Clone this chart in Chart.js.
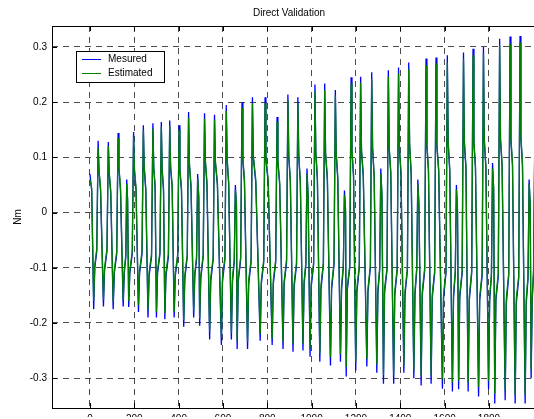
<!DOCTYPE html>
<html>
<head>
<meta charset="utf-8">
<script src="https://cdn.jsdelivr.net/npm/chart.js@4/dist/chart.umd.min.js"></script>
<style>
  html, body { margin: 0; padding: 0; background: #fff; overflow: hidden; }
  #wrap { width: 534px; height: 419px; }
</style>
</head>
<body>
<div id="wrap"><canvas id="graph" width="534" height="419"></canvas></div>
<script>
// samples, one row per oscillation
// (peak, shoulder, plateau end, trough, after trough, before next peak)
const time = [
  0, 8, 17, 22, 31,
  37, 41, 48, 61, 66, 77,
  83, 87, 94, 105, 110, 121,
  127, 131, 138, 150, 155, 162, 166, 170, 175, 180, 191,
  197, 201, 208, 219, 224, 235,
  241, 245, 252, 262, 267, 278,
  284, 288, 294, 300, 305, 316,
  322, 326, 332, 338, 343, 354,
  360, 364, 371, 380, 385, 396,
  402, 406, 413, 423, 428, 439,
  445, 449, 456, 468, 473, 481, 486, 491, 495, 500, 511,
  517, 521, 528, 540, 545, 556,
  562, 566, 575, 593, 598, 609,
  615, 619, 626, 638, 643, 651, 656, 661, 664, 669, 680,
  686, 690, 697, 711, 716, 727,
  733, 737, 748, 768, 773, 784,
  790, 794, 804, 822, 827, 838,
  844, 848, 856, 871, 876, 887,
  893, 897, 904, 916, 921, 932,
  938, 942, 949, 961, 966, 974, 979, 984, 993, 998, 1009,
  1015, 1019, 1026, 1037, 1042, 1053,
  1059, 1063, 1071, 1085, 1090, 1101,
  1107, 1111, 1118, 1130, 1135, 1143, 1148, 1153, 1156, 1161, 1172,
  1178, 1182, 1189, 1199, 1204, 1215,
  1221, 1225, 1233, 1249, 1254, 1265,
  1271, 1275, 1282, 1294, 1299, 1307, 1312, 1317, 1324, 1329, 1340,
  1346, 1350, 1357, 1370, 1375, 1386,
  1392, 1396, 1403, 1416, 1421, 1432,
  1438, 1442, 1449, 1461, 1466, 1474, 1479, 1484, 1494, 1499, 1510,
  1516, 1520, 1527, 1539, 1544, 1555,
  1561, 1565, 1573, 1590, 1595, 1606,
  1612, 1616, 1623, 1635, 1640, 1648, 1653, 1658, 1663, 1668, 1679,
  1685, 1689, 1696, 1706, 1711, 1722,
  1728, 1732, 1739, 1753, 1758, 1769,
  1775, 1779, 1786, 1798, 1803, 1811, 1816, 1821, 1826, 1831, 1842,
  1848, 1852, 1859, 1873, 1878, 1889,
  1895, 1899, 1906, 1918, 1923, 1934,
  1940, 1944, 1951, 1963, 1968, 1976, 1981, 1986, 1990, 1995, 2001, 2008
];

const mesured = [
  0.070, 0.040, -0.175, -0.100, -0.070,
  0.130, 0.075, 0.040, -0.170, -0.105, -0.070,
  0.128, 0.070, 0.035, -0.175, -0.110, -0.075,
  0.144, 0.080, 0.040, -0.170, -0.110, -0.080, 0.060, 0.020, -0.171, -0.110, -0.075,
  0.146, 0.075, 0.040, -0.180, -0.110, -0.075,
  0.158, 0.080, 0.040, -0.190, -0.115, -0.080,
  0.162, 0.080, 0.045, -0.190, -0.110, -0.075,
  0.164, 0.075, 0.040, -0.193, -0.115, -0.080,
  0.167, 0.080, 0.045, -0.190, -0.115, -0.080,
  0.158, 0.075, 0.040, -0.207, -0.120, -0.080,
  0.182, 0.085, 0.045, -0.190, -0.115, -0.085, 0.070, 0.025, -0.205, -0.120, -0.080,
  0.180, 0.090, 0.050, -0.230, -0.125, -0.085,
  0.177, 0.090, 0.050, -0.240, -0.125, -0.085,
  0.195, 0.095, 0.050, -0.230, -0.125, -0.090, 0.050, 0.010, -0.247, -0.125, -0.085,
  0.200, 0.095, 0.055, -0.247, -0.130, -0.090,
  0.209, 0.100, 0.055, -0.232, -0.130, -0.090,
  0.209, 0.095, 0.055, -0.240, -0.130, -0.090,
  0.173, 0.090, 0.050, -0.247, -0.130, -0.090,
  0.214, 0.100, 0.055, -0.252, -0.135, -0.095,
  0.209, 0.100, 0.055, -0.250, -0.130, -0.095, 0.080, 0.030, -0.261, -0.135, -0.095,
  0.232, 0.105, 0.060, -0.270, -0.140, -0.095,
  0.234, 0.105, 0.060, -0.277, -0.140, -0.095,
  0.222, 0.105, 0.060, -0.270, -0.140, -0.100, 0.040, 0.000, -0.297, -0.140, -0.100,
  0.245, 0.110, 0.065, -0.286, -0.145, -0.100,
  0.246, 0.110, 0.065, -0.279, -0.145, -0.100,
  0.254, 0.115, 0.065, -0.290, -0.145, -0.105, 0.080, 0.030, -0.310, -0.145, -0.105,
  0.258, 0.115, 0.070, -0.310, -0.150, -0.105,
  0.263, 0.115, 0.070, -0.290, -0.150, -0.105,
  0.272, 0.120, 0.070, -0.300, -0.150, -0.105, 0.060, 0.010, -0.313, -0.150, -0.105,
  0.279, 0.120, 0.075, -0.310, -0.155, -0.110,
  0.281, 0.120, 0.075, -0.319, -0.155, -0.110,
  0.285, 0.125, 0.075, -0.324, -0.155, -0.110, 0.050, 0.000, -0.320, -0.155, -0.110,
  0.290, 0.125, 0.080, -0.324, -0.160, -0.110,
  0.297, 0.125, 0.080, -0.333, -0.160, -0.115,
  0.300, 0.130, 0.080, -0.320, -0.160, -0.115, 0.090, 0.040, -0.346, -0.160, -0.115,
  0.315, 0.130, 0.085, -0.340, -0.165, -0.115,
  0.319, 0.130, 0.085, -0.346, -0.165, -0.120,
  0.320, 0.135, 0.085, -0.346, -0.165, -0.120, 0.060, 0.010, -0.300, -0.160, -0.110, 0.200
];

const estimated = [
  0.060, 0.045, -0.160, -0.095, -0.065,
  0.118, 0.078, 0.045, -0.158, -0.100, -0.065,
  0.120, 0.074, 0.040, -0.162, -0.104, -0.070,
  0.135, 0.082, 0.045, -0.158, -0.104, -0.076, 0.052, 0.025, -0.160, -0.104, -0.070,
  0.138, 0.078, 0.045, -0.168, -0.105, -0.070,
  0.150, 0.083, 0.045, -0.176, -0.108, -0.075,
  0.152, 0.082, 0.050, -0.180, -0.105, -0.070,
  0.155, 0.078, 0.045, -0.182, -0.108, -0.075,
  0.158, 0.084, 0.050, -0.180, -0.110, -0.075,
  0.150, 0.078, 0.045, -0.195, -0.114, -0.076,
  0.172, 0.088, 0.050, -0.178, -0.110, -0.080, 0.062, 0.030, -0.192, -0.114, -0.075,
  0.170, 0.094, 0.055, -0.215, -0.118, -0.080,
  0.168, 0.093, 0.055, -0.226, -0.118, -0.080,
  0.184, 0.098, 0.055, -0.218, -0.118, -0.085, 0.042, 0.015, -0.232, -0.120, -0.080,
  0.190, 0.098, 0.060, -0.234, -0.122, -0.085,
  0.198, 0.103, 0.060, -0.220, -0.124, -0.085,
  0.198, 0.099, 0.060, -0.228, -0.123, -0.085,
  0.165, 0.094, 0.055, -0.234, -0.124, -0.085,
  0.204, 0.104, 0.060, -0.238, -0.128, -0.090,
  0.198, 0.104, 0.060, -0.238, -0.124, -0.090, 0.070, 0.035, -0.246, -0.128, -0.090,
  0.220, 0.109, 0.065, -0.255, -0.132, -0.090,
  0.222, 0.108, 0.065, -0.262, -0.133, -0.090,
  0.212, 0.108, 0.065, -0.256, -0.133, -0.095, 0.032, 0.008, -0.280, -0.134, -0.095,
  0.234, 0.114, 0.070, -0.270, -0.138, -0.095,
  0.235, 0.114, 0.070, -0.265, -0.138, -0.095,
  0.242, 0.118, 0.070, -0.275, -0.138, -0.100, 0.070, 0.036, -0.294, -0.138, -0.100,
  0.246, 0.119, 0.075, -0.294, -0.143, -0.100,
  0.252, 0.118, 0.075, -0.276, -0.143, -0.100,
  0.260, 0.124, 0.075, -0.285, -0.143, -0.100, 0.052, 0.018, -0.296, -0.143, -0.100,
  0.267, 0.124, 0.080, -0.294, -0.148, -0.105,
  0.270, 0.124, 0.080, -0.302, -0.148, -0.105,
  0.272, 0.128, 0.080, -0.308, -0.148, -0.105, 0.042, 0.008, -0.304, -0.148, -0.105,
  0.278, 0.129, 0.085, -0.308, -0.152, -0.105,
  0.285, 0.129, 0.085, -0.316, -0.152, -0.110,
  0.288, 0.133, 0.085, -0.305, -0.152, -0.110, 0.080, 0.046, -0.328, -0.152, -0.110,
  0.303, 0.134, 0.090, -0.322, -0.156, -0.110,
  0.306, 0.134, 0.090, -0.330, -0.156, -0.115,
  0.308, 0.138, 0.090, -0.330, -0.156, -0.115, 0.052, 0.018, -0.285, -0.152, -0.105, 0.185
];

const xTicks = [0, 200, 400, 600, 800, 1000, 1200, 1400, 1600, 1800];
const yTicks = [-0.3, -0.2, -0.1, 0, 0.1, 0.2, 0.3];

const FONT = "'Liberation Sans', Arial, sans-serif";

// MATLAB style frame, inward ticks, title and boxed legend
const matlabDecor = {
  id: "matlabDecor",
  afterDraw(chart) {
    const ctx = chart.ctx;
    const a = chart.chartArea;
    const xs = chart.scales.x;
    const ys = chart.scales.y;
    ctx.save();
    ctx.strokeStyle = "#000";
    ctx.lineWidth = 1;
    ctx.setLineDash([]);
    ctx.strokeRect(a.left + 0.5, a.top + 0.5, a.right - a.left, a.bottom - a.top);
    ctx.beginPath();
    xTicks.forEach((v) => {
      const px = Math.round(xs.getPixelForValue(v)) + 0.5;
      ctx.moveTo(px, a.bottom);
      ctx.lineTo(px, a.bottom - 5);
      ctx.moveTo(px, a.top);
      ctx.lineTo(px, a.top + 5);
    });
    yTicks.forEach((v) => {
      const py = Math.round(ys.getPixelForValue(v)) + 0.5;
      ctx.moveTo(a.left, py);
      ctx.lineTo(a.left + 5, py);
    });
    ctx.stroke();

    ctx.fillStyle = "#000";
    ctx.font = "10px " + FONT;
    ctx.textAlign = "center";
    ctx.textBaseline = "middle";
    ctx.fillText("Direct Validation", 289, 13);

    // legend
    const lx = a.left + 24, ly = a.top + 25, lw = 88, lh = 31;
    ctx.fillStyle = "#fff";
    ctx.fillRect(lx, ly, lw, lh);
    ctx.strokeStyle = "#000";
    ctx.strokeRect(lx + 0.5, ly + 0.5, lw, lh);
    ctx.textAlign = "left";
    chart.data.datasets.forEach((ds, i) => {
      const yy = ly + 8.5 + i * 14;
      ctx.strokeStyle = ds.borderColor;
      ctx.beginPath();
      ctx.moveTo(lx + 6, yy);
      ctx.lineTo(lx + 25, yy);
      ctx.stroke();
      ctx.fillStyle = "#000";
      ctx.fillText(ds.label, lx + 32, yy);
    });
    ctx.restore();
  },
};

new Chart(document.getElementById("graph").getContext("2d"), {
  type: "line",
  data: {
    datasets: [
      {
        label: "Mesured",
        data: time.map((t, i) => ({ x: t, y: mesured[i] })),
        borderColor: "#0000ff",
        backgroundColor: "transparent",
        borderWidth: 1.3,
        pointRadius: 0,
        tension: 0,
        order: 1,
      },
      {
        label: "Estimated",
        data: time.map((t, i) => ({ x: t, y: estimated[i] })),
        borderColor: "#008000",
        backgroundColor: "transparent",
        borderWidth: 1.3,
        pointRadius: 0,
        tension: 0,
        order: 0,
      },
    ],
  },
  options: {
    responsive: false,
    animation: false,
    layout: { padding: { top: 26, left: 0, right: 0, bottom: 0 } },
    plugins: {
      legend: { display: false },
      tooltip: { enabled: false },
    },
    scales: {
      x: {
        type: "linear",
        min: -171,
        max: 2003,
        afterBuildTicks: (s) => { s.ticks = xTicks.map((v) => ({ value: v })); },
        afterFit: (s) => { s.height = 9; },
        grid: { color: "rgba(0,0,0,0.7)", drawTicks: false },
        border: { display: false, dash: [6, 5] },
        ticks: {
          padding: 5,
          color: "#000",
          font: { family: FONT, size: 10 },
          maxRotation: 0,
          autoSkip: false,
          callback: (v) => String(v),
        },
      },
      y: {
        min: -0.354,
        max: 0.338,
        afterBuildTicks: (s) => { s.ticks = yTicks.map((v) => ({ value: v })); },
        afterFit: (s) => { s.width = 52; },
        grid: { color: "rgba(0,0,0,0.7)", drawTicks: false },
        border: { display: false, dash: [6, 5] },
        title: {
          display: true,
          text: "Nm",
          color: "#000",
          font: { family: FONT, size: 10 },
          padding: { top: 12, bottom: 0 },
        },
        ticks: {
          padding: 5,
          color: "#000",
          font: { family: FONT, size: 10 },
          autoSkip: false,
          callback: (v) => String(v),
        },
      },
    },
  },
  plugins: [matlabDecor],
});
</script>
</body>
</html>
